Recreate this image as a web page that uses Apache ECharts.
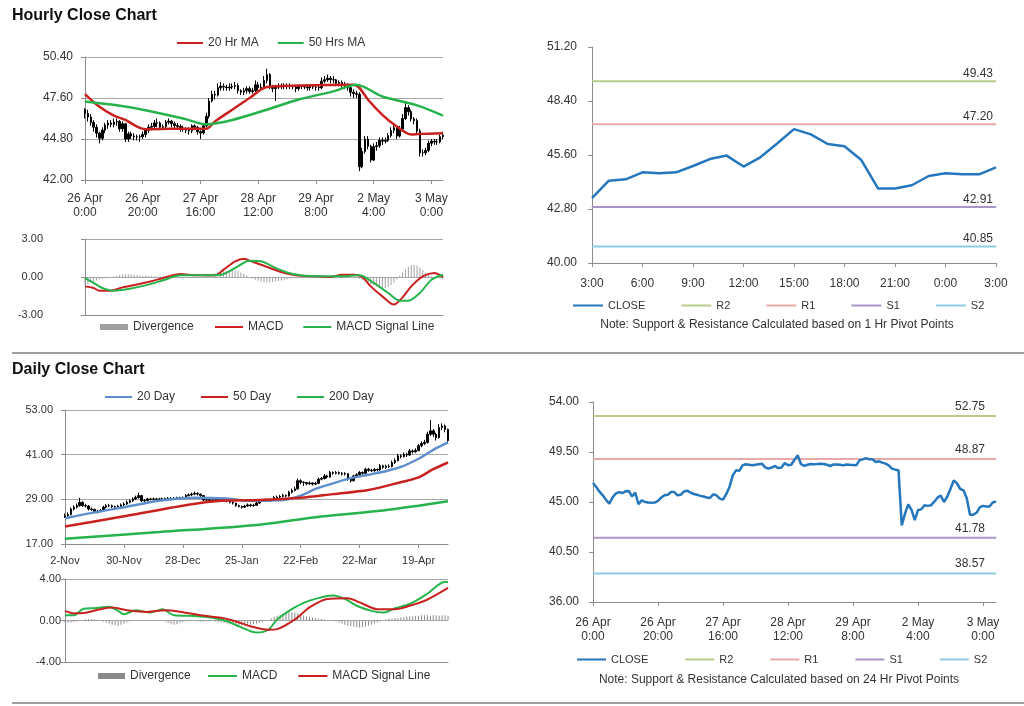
<!DOCTYPE html>
<html><head><meta charset="utf-8">
<script src="https://cdn.jsdelivr.net/npm/echarts@6/dist/echarts.min.js"></script>
<style>html,body{margin:0;padding:0;background:#fff}#c{width:1024px;height:706px}</style>
</head><body><div id="c"></div>
<script>
// ---------- categories ----------
const hourlyDays = [['26 Apr',24],['27 Apr',24],['28 Apr',24],['29 Apr',24],['2 May',24],['3 May',5]];
const hourlyCats = [];
hourlyDays.forEach(([d,n]) => { for (let h = 0; h < n; h++) hourlyCats.push(d + '\n' + h + ':00'); });
const pivotStart = 99, pivotEnd = 124;
const pivotHourCats = hourlyCats.slice(pivotStart, pivotEnd).map(s => s.split('\n')[1]);
const monthNames = ['Jan','Feb','Mar','Apr','May','Jun','Jul','Aug','Sep','Oct','Nov','Dec'];
const dailyCats = [];
(function(){ let t = Date.UTC(2010,10,2); while (dailyCats.length < 131) { const d = new Date(t); const w = d.getUTCDay(); if (w !== 0 && w !== 6) dailyCats.push(d.getUTCDate() + '-' + monthNames[d.getUTCMonth()]); t += 86400000; } })();

// ---------- hourly candles [open, close, low, high] ----------
const hourlyOHLC = [
[46.8,46.55,46.2,46.9],[46.55,46.3,46.0,46.8],[46.3,45.93,45.7,46.5],[45.93,45.6,45.3,46.1],[45.6,45.2,44.9,45.8],
[45.2,44.85,44.5,45.3],[44.85,45.4,44.7,45.6],[45.4,45.75,45.2,45.9],[45.75,45.9,45.5,46.1],[45.9,45.8,45.6,46.1],
[45.8,45.96,45.6,46.2],[45.96,46.0,45.7,46.2],[46.0,45.5,45.3,46.1],[45.5,45.84,45.3,46.0],[45.84,44.8,44.6,45.9],
[44.8,45.15,44.6,45.3],[45.15,45.0,44.8,45.3],[45.0,44.95,44.7,45.2],[44.95,44.94,44.7,45.1],[44.94,44.95,44.6,45.1],
[44.95,45.1,44.8,45.3],[45.1,45.4,44.9,45.5],[45.4,45.6,45.2,45.8],[45.6,45.66,45.4,45.9],[45.66,45.9,45.5,46.1],
[45.9,45.9,45.6,46.2],[45.9,45.6,45.4,46.0],[45.6,45.65,45.4,45.8],[45.65,45.95,45.5,46.1],[45.95,46.02,45.8,46.2],
[46.02,45.85,45.6,46.1],[45.85,45.72,45.5,46.0],[45.72,45.66,45.5,45.9],[45.66,45.55,45.3,45.8],[45.55,45.5,45.3,45.7],
[45.5,45.4,45.2,45.6],[45.4,45.36,45.1,45.6],[45.36,45.7,45.2,45.8],[45.7,45.6,45.4,45.8],[45.6,45.3,45.1,45.7],
[45.3,45.21,44.8,45.4],[45.21,45.7,45.1,45.9],[45.7,46.35,45.6,46.6],[46.35,47.4,46.2,47.6],[47.4,47.85,47.3,48.1],
[47.85,47.8,47.5,48.1],[47.8,48.3,47.7,48.6],[48.3,48.4,48.1,48.7],[48.4,48.35,48.1,48.6],[48.35,48.3,48.1,48.5],
[48.3,48.35,48.1,48.6],[48.35,48.4,48.2,48.6],[48.4,48.45,48.2,48.7],[48.45,48.1,47.9,48.6],[48.1,48.0,47.8,48.2],
[48.0,48.1,47.8,48.3],[48.1,48.24,47.9,48.4],[48.24,48.05,47.9,48.4],[48.05,48.1,47.9,48.3],[48.1,48.5,48.0,48.8],
[48.5,48.3,48.1,48.7],[48.3,48.35,48.1,48.6],[48.35,48.8,48.2,49.1],[48.8,49.2,48.6,49.6],[49.2,48.4,48.2,49.3],
[48.4,48.25,48.0,48.5],[48.25,48.35,47.4,48.5],[48.35,48.42,48.2,48.6],[48.42,48.4,48.2,48.6],[48.4,48.42,48.2,48.6],
[48.42,48.45,48.2,48.6],[48.45,48.42,48.2,48.6],[48.42,48.35,48.2,48.5],[48.35,48.24,48.0,48.5],[48.24,48.38,48.1,48.5],
[48.38,48.38,48.2,48.5],[48.38,48.35,48.2,48.5],[48.35,48.3,48.1,48.5],[48.3,48.38,48.1,48.5],[48.38,48.35,48.2,48.5],
[48.35,48.33,48.1,48.5],[48.33,48.3,48.1,48.5],[48.3,48.75,48.2,49.0],[48.75,48.84,48.6,49.1],[48.84,48.95,48.7,49.2],
[48.95,48.85,48.6,49.1],[48.85,48.84,48.6,49.1],[48.84,48.6,48.4,48.9],[48.6,48.66,48.4,48.8],[48.66,48.54,48.3,48.8],
[48.54,48.45,48.2,48.7],[48.45,48.3,48.1,48.6],[48.3,48.0,47.7,48.4],[48.0,47.91,47.6,48.2],[47.91,47.85,47.6,48.1],
[47.85,42.9,42.6,48.0],[42.9,43.95,42.8,44.2],[43.95,44.79,43.8,45.0],[44.79,44.3,44.1,45.0],[44.3,43.36,43.2,44.4],
[43.36,44.27,43.3,44.5],[44.27,44.34,44.0,44.6],[44.34,44.7,44.2,44.9],[44.7,44.65,44.4,44.9],[44.65,44.7,44.5,44.9],
[44.7,45.03,44.6,45.2],[45.03,45.39,44.9,45.6],[45.39,45.57,45.2,45.8],[45.57,45.0,44.8,45.7],[45.0,45.48,44.9,45.7],
[45.48,46.2,45.4,46.5],[46.2,46.94,46.1,47.4],[46.94,46.67,46.4,47.1],[46.67,46.17,46.0,46.8],[46.17,46.05,45.8,46.3],
[46.05,45.34,45.1,46.2],[45.34,43.86,43.6,45.5],[43.86,43.86,43.6,44.1],[43.86,44.03,43.7,44.2],[44.03,44.51,43.9,44.7],
[44.51,44.65,44.3,44.8],[44.65,44.6,44.4,44.8],[44.6,44.6,44.4,44.8],[44.6,44.96,44.5,45.1],[44.96,45.06,44.8,45.3]
];
const hourlyClose = [
46.71,46.35,45.93,45.6,45.2,44.85,45.4,45.75,45.9,45.8,
45.96,46.0,45.5,45.84,44.8,45.15,45.0,44.95,44.94,44.95,
45.1,45.4,45.6,45.66,45.9,45.9,45.6,45.65,45.95,46.02,
45.85,45.72,45.66,45.55,45.5,45.4,45.36,45.7,45.6,45.3,
45.21,45.7,46.35,47.4,47.85,47.8,48.3,48.4,48.35,48.3,
48.35,48.4,48.45,48.1,48.0,48.1,48.24,48.05,48.1,48.5,
48.3,48.35,48.8,49.2,48.4,48.25,48.35,48.42,48.4,48.42,
48.45,48.42,48.35,48.24,48.38,48.38,48.35,48.3,48.38,48.35,
48.33,48.3,48.75,48.84,48.95,48.85,48.84,48.6,48.66,48.54,
48.45,48.3,48.0,47.91,47.85,42.9,43.95,44.79,44.3,43.36,
44.27,44.34,44.7,44.65,44.7,45.03,45.39,45.57,45.0,45.48,
46.2,46.94,46.67,46.17,46.05,45.34,43.86,43.86,44.03,44.51,
44.65,44.6,44.6,44.96,45.06
];
// moving averages read at points [barIndex, value]
const ma20h = [[0,47.87],[5,47.0],[10,46.4],[14,46.1],[18,45.65],[21,45.47],[30,45.5],[42,45.5],[45,46.0],[51,46.8],[57,47.6],[63,48.35],[75,48.45],[93,48.5],[95,48.3],[98,47.5],[103,46.45],[108,45.65],[113,45.1],[116,45.15],[124,45.2]];
const ma50h = [[0,47.36],[11,47.1],[20,46.8],[34,46.2],[42,45.8],[51,46.1],[63,46.8],[74,47.5],[86,48.05],[94,48.5],[103,47.7],[115,47.1],[124,46.4]];
// hourly MACD
const macdH = [[0,-0.74],[3,-0.87],[5,-1.08],[9,-1.08],[13,-0.82],[18,-0.6],[23,-0.34],[27,-0.08],[33,0.24],[39,0.13],[45,0.13],[48,0.58],[52,1.24],[55,1.45],[57,1.29],[62,0.89],[68,0.39],[73,0.13],[80,0.05],[85,0],[89,0.18],[93,0.18],[96,0],[99,-0.74],[103,-1.53],[107,-2.18],[110,-1.61],[113,-0.74],[117,0.05],[121,0.32],[124,0.0]];
const signalH = [[0,-0.08],[3,-0.47],[6,-0.87],[10,-1.08],[15,-0.95],[22,-0.6],[27,-0.26],[33,0.13],[39,0.13],[47,0.18],[52,0.71],[57,1.29],[61,1.24],[66,0.71],[72,0.24],[80,0.05],[89,0.05],[95,0.13],[100,-0.47],[105,-1.26],[109,-1.87],[112,-1.87],[116,-1.26],[120,-0.21],[124,0.18]];
const divH = [
-0.66,-0.55,-0.45,-0.35,-0.28,-0.2,-0.15,-0.1,-0.05,0,
0.05,0.1,0.15,0.2,0.22,0.22,0.2,0.18,0.15,0.12,
0.1,0.1,0.08,0.08,0.06,0.06,0.05,0.05,0.05,0.06,
0.05,0.04,0.03,0.02,0,-0.02,-0.03,-0.05,-0.05,-0.03,
0,0.05,0.1,0.18,0.25,0.3,0.35,0.4,0.45,0.5,
0.55,0.55,0.5,0.45,0.35,0.25,0.12,0,-0.12,-0.22,
-0.3,-0.36,-0.4,-0.42,-0.42,-0.4,-0.36,-0.32,-0.28,-0.22,
-0.18,-0.14,-0.1,-0.07,-0.05,-0.03,-0.02,0,0,0,
0.02,0.04,0.06,0.05,0.03,0,-0.02,-0.02,0,0.02,
0.03,0.02,0,-0.03,-0.08,-0.15,-0.25,-0.35,-0.45,-0.55,
-0.65,-0.75,-0.82,-0.87,-0.87,-0.8,-0.65,-0.45,-0.2,0.1,
0.35,0.6,0.8,0.95,0.97,0.9,0.75,0.55,0.35,0.18,
0.05,-0.05,-0.1,-0.12,-0.2
];

// ---------- daily candles [open, close, low, high] ----------
const dailyOHLC = [
[24.3,24.6,24.0,25.2],[24.6,24.9,24.3,25.5],[24.9,26.4,24.7,26.8],[26.4,26.9,26.0,27.4],[26.9,27.3,26.5,27.9],
[27.3,28.2,27.0,29.4],[28.2,27.3,27.0,28.5],[27.3,27.2,26.8,27.8],[27.2,26.4,26.0,27.5],[26.4,26.3,25.9,26.8],
[26.3,25.5,25.2,26.5],[25.5,25.8,25.2,26.2],[25.8,26.0,25.5,26.4],[26.0,26.9,25.8,27.3],[26.9,27.3,26.6,27.7],
[27.3,27.3,26.9,27.8],[27.3,27.0,26.7,27.6],[27.0,26.9,26.5,27.3],[26.9,27.1,26.6,27.5],[27.1,27.5,26.9,27.9],
[27.5,27.75,27.2,28.2],[27.75,28.2,27.5,28.7],[28.2,28.6,27.9,29.0],[28.6,29.1,28.3,29.5],[29.1,29.5,28.8,30.0],
[29.5,30.0,29.2,30.8],[30.0,28.6,28.3,30.2],[28.6,28.7,28.3,29.1],[28.7,29.1,28.4,29.4],[29.1,29.0,28.7,29.4],
[29.0,29.1,28.7,29.5],[29.1,29.0,28.7,29.4],[29.0,29.1,28.8,29.4],[29.1,29.2,28.8,29.5],[29.2,29.1,28.8,29.5],
[29.1,29.3,28.9,29.6],[29.3,29.2,28.9,29.6],[29.2,29.3,29.0,29.6],[29.3,29.4,29.0,29.7],[29.4,29.3,29.0,29.7],
[29.3,29.5,29.1,29.8],[29.5,30.0,29.3,30.4],[30.0,30.2,29.8,30.6],[30.2,30.4,29.9,30.8],[30.4,30.6,30.1,31.1],
[30.6,30.4,30.0,30.9],[30.4,30.0,29.6,30.6],[30.0,28.8,28.5,30.1],[28.8,28.9,28.5,29.2],[28.9,28.7,28.4,29.1],
[28.7,28.8,28.4,29.1],[28.8,28.9,28.5,29.2],[28.9,29.0,28.6,29.3],[29.0,29.1,28.7,29.4],[29.1,28.9,28.5,29.3],
[28.9,28.6,28.2,29.0],[28.6,28.2,27.9,28.8],[28.2,28.0,27.6,28.4],[28.0,27.3,27.0,28.1],[27.3,27.1,26.8,27.6],
[27.1,26.9,26.5,27.3],[26.9,27.2,26.7,27.5],[27.2,27.5,27.0,27.9],[27.5,27.3,27.0,27.8],[27.3,27.4,27.0,27.8],
[27.4,28.0,27.2,28.4],[28.0,28.6,27.8,29.0],[28.6,28.7,28.3,29.0],[28.7,28.8,28.4,29.2],[28.8,28.6,28.3,29.1],
[28.6,28.8,28.3,29.2],[28.8,29.5,28.6,29.9],[29.5,29.6,29.2,30.0],[29.6,29.8,29.3,30.2],[29.8,30.0,29.5,30.5],
[30.0,29.9,29.5,30.3],[29.9,30.9,29.7,31.3],[30.9,31.4,30.6,31.9],[31.4,31.8,31.1,32.4],[31.8,34.0,31.6,34.6],
[34.0,33.6,33.0,34.4],[33.6,33.5,32.6,33.9],[33.5,33.2,32.8,33.7],[33.2,33.4,32.9,33.8],[33.4,33.1,32.7,33.6],
[33.1,33.3,32.8,33.7],[33.3,34.4,33.1,34.8],[34.4,34.6,34.1,35.0],[34.6,35.3,34.3,35.8],[35.3,35.0,34.6,35.6],
[35.0,36.2,34.8,36.7],[36.2,36.0,35.6,36.5],[36.0,36.2,35.7,36.6],[36.2,36.0,35.6,36.5],[36.0,35.8,35.4,36.3],
[35.8,35.9,35.4,36.3],[35.9,34.4,34.0,36.0],[34.4,34.0,33.5,34.7],[34.0,35.3,33.8,35.6],[35.3,35.6,35.0,36.0],
[35.6,36.2,35.3,36.6],[36.2,36.0,35.6,36.5],[36.0,37.1,35.8,37.5],[37.1,36.8,36.4,37.4],[36.8,36.7,36.3,37.2],
[36.7,37.0,36.4,37.4],[37.0,36.9,36.5,37.3],[36.9,38.0,36.7,38.5],[38.0,37.6,37.2,38.3],[37.6,37.9,37.2,38.3],
[37.9,37.8,37.4,38.4],[37.8,38.9,37.6,39.4],[38.9,39.4,38.5,40.0],[39.4,40.7,39.2,41.2],[40.7,40.5,40.0,41.1],
[40.5,41.1,40.2,41.6],[41.1,40.9,40.4,41.5],[40.9,42.0,40.7,42.5],[42.0,41.8,41.3,42.4],[41.8,42.1,41.5,42.7],
[42.1,43.4,41.9,43.9],[43.4,44.0,43.0,44.6],[44.0,44.3,43.6,45.0],[44.3,46.5,44.0,47.2],[46.5,47.4,46.0,50.3],
[47.4,46.5,45.8,47.9],[46.5,45.6,44.8,46.9],[45.6,48.3,45.3,49.2],[48.3,48.7,47.6,49.4],[48.7,47.8,47.0,49.1],
[47.8,44.8,44.3,48.0]
];
const ma20d = [[0,23.9],[10,25.5],[21,27.0],[32,28.6],[44,29.4],[55,29.2],[63,28.6],[74,28.8],[80,30.0],[85,31.8],[91,33.3],[97,34.7],[103,35.6],[108,36.4],[114,37.7],[120,39.9],[125,42.3],[130,44.3]];
const ma50d = [[0,21.7],[21,24.6],[43,27.7],[53,28.6],[66,28.8],[80,29.4],[91,30.4],[103,31.5],[114,33.6],[120,34.9],[125,37.1],[130,38.9]];
const ma200d = [[0,18.4],[32,20.2],[66,22.2],[85,24.2],[108,26.0],[120,27.3],[130,28.5]];
const macdD = [[0,0.5],[3,0.5],[6,1.09],[10,1.19],[15,1.32],[18,0.93],[20,0.6],[24,1.0],[29,0.76],[33,1.09],[37,0.5],[44,0.43],[50,0.26],[55,-0.07],[59,-0.56],[65,-1.16],[69,-0.89],[72,0.1],[78,1.26],[83,1.92],[91,2.41],[95,2.08],[99,1.42],[104,0.93],[108,0.76],[112,1.19],[117,1.59],[123,2.58],[129,3.74],[130,3.68]];
const signalD = [[0,0.93],[3,0.69],[7,0.75],[12,1.09],[16,1.26],[21,0.99],[28,0.83],[34,0.99],[39,0.85],[46,0.5],[53,0.26],[57,0],[63,-0.56],[69,-0.89],[72,-0.83],[78,0.1],[83,1.26],[89,2.08],[96,2.15],[100,1.75],[106,1.09],[112,1.09],[117,1.42],[123,2.02],[130,3.14]];
const divD = [
-0.2,-0.25,-0.2,-0.15,-0.1,-0.05,0.05,0.12,0.15,0.15,
0.12,0.08,0.0,-0.1,-0.2,-0.3,-0.4,-0.45,-0.5,-0.4,
-0.3,-0.2,-0.1,-0.05,0.0,0.05,0.05,0.0,-0.05,-0.05,
-0.05,0.0,0.02,0.0,-0.1,-0.25,-0.35,-0.4,-0.35,-0.25,
-0.15,-0.1,-0.08,-0.05,-0.05,-0.08,-0.1,-0.1,-0.08,-0.05,
-0.05,-0.1,-0.15,-0.2,-0.25,-0.3,-0.35,-0.4,-0.45,-0.5,
-0.5,-0.48,-0.45,-0.4,-0.35,-0.3,-0.25,-0.15,-0.05,0.05,
0.2,0.35,0.45,0.55,0.65,0.75,0.8,0.8,0.75,0.7,
0.6,0.5,0.4,0.35,0.3,0.25,0.2,0.15,0.1,0.05,
0.0,-0.05,-0.1,-0.2,-0.3,-0.4,-0.5,-0.55,-0.6,-0.65,
-0.7,-0.65,-0.6,-0.5,-0.4,-0.3,-0.2,-0.1,0.0,0.1,
0.2,0.2,0.25,0.25,0.3,0.3,0.35,0.4,0.4,0.45,
0.45,0.5,0.5,0.5,0.45,0.5,0.5,0.45,0.5,0.5,0.45
];

// ---------- pivot levels ----------
const levelNames = ['R2','R1','S1','S2'];
const hourlyLevels = [49.43, 47.20, 42.91, 40.85];
const dailyLevels = [52.75, 48.87, 41.78, 38.57];
const levelColors = ['#b9cc8e','#e8aaa9','#a896c6','#8dcde2'];

// ---------- tick settings ----------
const hTop = {min:42, max:50.4, interval:2.8};
const hMacd = {min:-3, max:3, interval:3};
const hPiv = {min:40, max:51.2, interval:2.8};
const dTop = {min:17, max:53, interval:12};
const dMacd = {min:-4, max:4, interval:4};
const dPiv = {min:36, max:54, interval:4.5};

const F = 'Liberation Sans, Arial, sans-serif';
const AX = '#8c8c8c';
const RED = '#c8211f', GREEN = '#27b34c', BLUE = '#5e8fcb', CLOSEC = '#2577bd';

function xCat(gi, data, o) {
  return { type:'category', gridIndex:gi, data, boundaryGap:false,
    axisLine:{ onZero:false, lineStyle:{ color:AX } },
    axisTick:{ show:o.tick, interval:o.interval, length:4, lineStyle:{ color:AX } },
    axisLabel:{ show:o.labels, interval:o.interval, color:'#333', fontSize:o.fs || 11, lineHeight:14, margin:o.margin || 8, fontFamily:F },
    splitLine:{ show:false } };
}
function yVal(gi, s, o) {
  return { type:'value', gridIndex:gi, min:s.min, max:s.max, interval:s.interval,
    axisLine:{ show:true, lineStyle:{ color:AX } },
    axisTick:{ show:true, length:4, lineStyle:{ color:AX } },
    axisLabel:{ formatter:v => v.toFixed(2), color:'#333', fontSize:o.fs || 11, margin:o.margin, fontFamily:F },
    splitLine:{ show:o.grid, lineStyle:{ color:'#a8a8a8' } } };
}
function lineS(name, data, xi, color, width, extra) {
  return Object.assign({ type:'line', name, xAxisIndex:xi, yAxisIndex:xi, data, symbol:'none', smooth:0.3,
    lineStyle:{ color, width }, itemStyle:{ color }, z:3, silent:true }, extra || {});
}
function levelS(name, val, n, xi, off, dist, color) {
  return { type:'line', name, xAxisIndex:xi, yAxisIndex:xi, data:[[0,val], { value:[n-1,val], label:{ show:true } }],
    symbol:'circle', symbolSize:1, showSymbol:true, lineStyle:{ color, width:2 }, itemStyle:{ color }, silent:true, z:2,
    label:{ show:false, position:'top', align:'right', distance:dist, offset:off, formatter:p => p.value[1].toFixed(2), color:'#333', fontSize:12, fontFamily:F } };
}
function legend(o, fs) {
  return Object.assign({ icon:'rect', itemHeight:2, selectedMode:false, padding:0,
    textStyle:{ color:'#333', fontSize:fs || 12, fontFamily:F } }, o);
}
const strip = n => n.replace(/ \((h|d)\)$/,'');

const series = [];
// hourly candle panel (axis 0)
series.push({ type:'candlestick', name:'Hourly', xAxisIndex:0, yAxisIndex:0, data:hourlyOHLC, barWidth:2,
  itemStyle:{ color:'#000', color0:'#000', borderColor:'#000', borderColor0:'#000', borderWidth:1 }, silent:true, z:2 });
series.push(lineS('20 Hr MA', ma20h, 0, RED, 2.5));
series.push(lineS('50 Hrs MA', ma50h, 0, GREEN, 2.5));
// hourly MACD (axis 1)
series.push({ type:'bar', name:'Divergence (h)', xAxisIndex:1, yAxisIndex:1, data:divH, barWidth:1, itemStyle:{ color:'#a0a0a0' }, silent:true, z:1 });
series.push(lineS('MACD (h)', macdH, 1, RED, 2));
series.push(lineS('MACD Signal Line (h)', signalH, 1, GREEN, 2));
// hourly pivot (axis 2)
levelNames.forEach((nm, i) => series.push(levelS(nm + ' (h)', hourlyLevels[i], pivotHourCats.length, 2, [-3,0], 1, levelColors[i])));
series.push(lineS('CLOSE (h)', hourlyClose.slice(pivotStart, pivotEnd), 2, CLOSEC, 2.5, { smooth:false, z:4 }));
// daily candle panel (axis 3)
series.push({ type:'candlestick', name:'Daily', xAxisIndex:3, yAxisIndex:3, data:dailyOHLC, barWidth:2,
  itemStyle:{ color:'#000', color0:'#000', borderColor:'#000', borderColor0:'#000', borderWidth:1 }, silent:true, z:2 });
series.push(lineS('20 Day', ma20d, 3, BLUE, 2.5));
series.push(lineS('50 Day', ma50d, 3, RED, 2.5));
series.push(lineS('200 Day', ma200d, 3, GREEN, 2.5));
// daily MACD (axis 4)
series.push({ type:'bar', name:'Divergence (d)', xAxisIndex:4, yAxisIndex:4, data:divD, barWidth:1, itemStyle:{ color:'#8a8a8a' }, silent:true, z:1 });
series.push(lineS('MACD (d)', macdD, 4, GREEN, 2));
series.push(lineS('MACD Signal Line (d)', signalD, 4, RED, 2));
// daily pivot (axis 5)
levelNames.forEach((nm, i) => series.push(levelS(nm + ' (d)', dailyLevels[i], hourlyCats.length, 5, [-11,0], 3, levelColors[i])));
series.push(lineS('CLOSE (d)', hourlyClose, 5, CLOSEC, 2.5, { smooth:false, z:4 }));

const option = {
  animation:false,
  backgroundColor:'#fff',
  textStyle:{ fontFamily:F },
  grid:[
    { left:85, top:57, width:358, height:123 },
    { left:85, top:239, width:358, height:76 },
    { left:592, top:47, width:404, height:216 },
    { left:65, top:410, width:383, height:134 },
    { left:65, top:579, width:383, height:83 },
    { left:593, top:402, width:403, height:200 }
  ],
  xAxis:[
    xCat(0, hourlyCats, { tick:true, labels:true, interval:19, margin:12, fs:12 }),
    xCat(1, hourlyCats, { tick:false, labels:false, interval:19 }),
    xCat(2, pivotHourCats, { tick:true, labels:true, interval:2, margin:14, fs:12 }),
    xCat(3, dailyCats, { tick:true, labels:true, interval:19, margin:10, fs:11 }),
    xCat(4, dailyCats, { tick:false, labels:false, interval:19 }),
    xCat(5, hourlyCats, { tick:true, labels:true, interval:19, margin:14, fs:12 })
  ],
  yAxis:[
    yVal(0, hTop, { grid:true, margin:12, fs:12 }),
    yVal(1, hMacd, { grid:true, margin:42, fs:11 }),
    yVal(2, hPiv, { grid:false, margin:15, fs:12 }),
    yVal(3, dTop, { grid:true, margin:12, fs:11 }),
    yVal(4, dMacd, { grid:true, margin:4, fs:11 }),
    yVal(5, dPiv, { grid:false, margin:14, fs:12 })
  ],
  legend:[
    legend({ data:['20 Hr MA','50 Hrs MA'], left:177, top:37, itemWidth:26, itemGap:19 }),
    legend({ data:['Divergence (h)'], left:100, top:321, itemWidth:28, itemHeight:6, formatter:strip }),
    legend({ data:['MACD (h)','MACD Signal Line (h)'], left:215, top:321, itemWidth:28, itemGap:20, formatter:strip }),
    legend({ data:['CLOSE (h)','R2 (h)','R1 (h)','S1 (h)','S2 (h)'], left:573, top:300, itemWidth:30, itemGap:36, formatter:strip }, 11),
    legend({ data:['20 Day','50 Day','200 Day'], left:105, top:391, itemWidth:27, itemGap:26 }),
    legend({ data:['Divergence (d)'], left:98, top:670, itemWidth:27, itemHeight:6, formatter:strip }),
    legend({ data:['MACD (d)','MACD Signal Line (d)'], left:208, top:670, itemWidth:29, itemGap:21, formatter:strip }),
    legend({ data:['CLOSE (d)','R2 (d)','R1 (d)','S1 (d)','S2 (d)'], left:577, top:654, itemWidth:29, itemGap:37, formatter:strip }, 11)
  ],
  graphic:[
    { type:'text', left:12, top:8, style:{ text:'Hourly Close Chart', font:'bold 16px ' + F, fill:'#111' } },
    { type:'text', left:12, top:362, style:{ text:'Daily Close Chart', font:'bold 16px ' + F, fill:'#111' } },
    { type:'line', shape:{ x1:12, y1:353, x2:1024, y2:353 }, style:{ stroke:'#a0a0a0', lineWidth:2 } },
    { type:'line', shape:{ x1:12, y1:703, x2:1024, y2:703 }, style:{ stroke:'#a0a0a0', lineWidth:2 } },
    { type:'text', x:777, y:325, style:{ text:'Note: Support & Resistance Calculated based on 1 Hr Pivot Points', align:'center', verticalAlign:'middle', font:'12px ' + F, fill:'#333' } },
    { type:'text', x:779, y:680, style:{ text:'Note: Support & Resistance Calculated based on 24 Hr Pivot Points', align:'center', verticalAlign:'middle', font:'12px ' + F, fill:'#333' } }
  ],
  series
};
const chart = echarts.init(document.getElementById('c'), null, { renderer:'canvas' });
chart.setOption(option);
</script></body></html>
